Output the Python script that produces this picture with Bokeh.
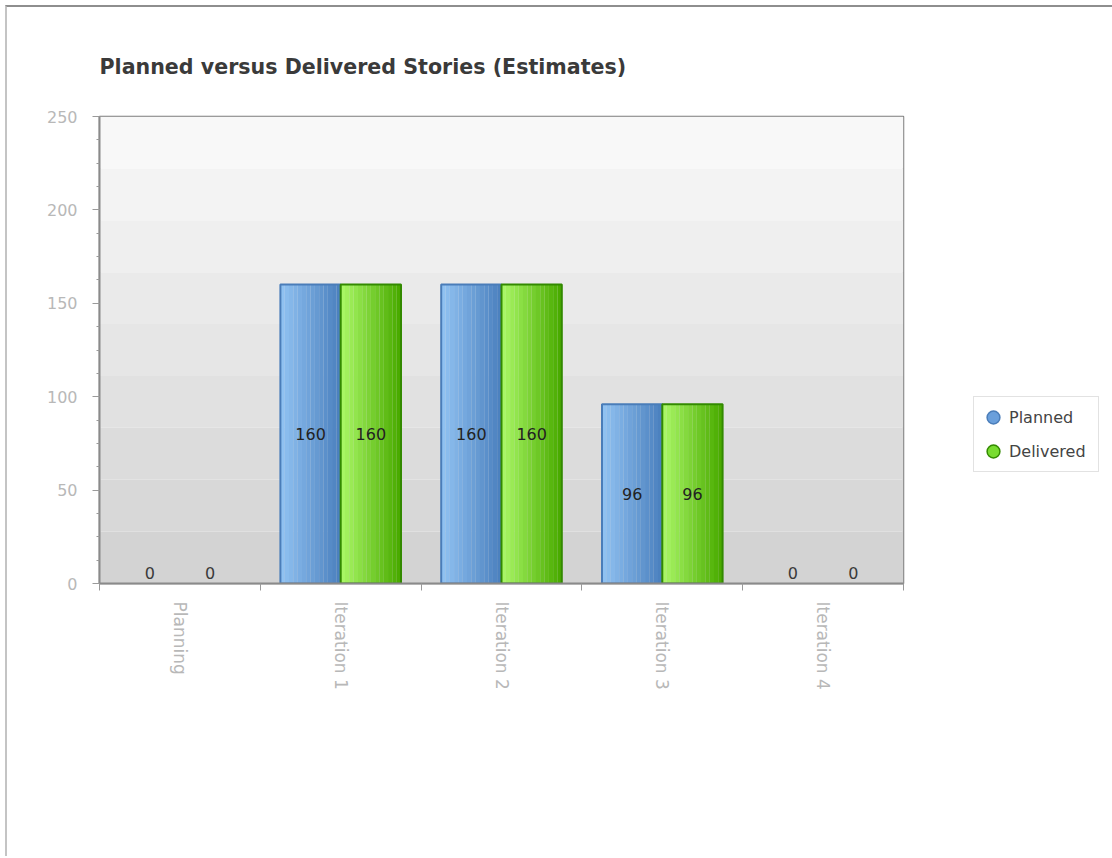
import math
from bokeh.plotting import figure
from bokeh.models import (FixedTicker, Legend, LegendItem, ColumnDataSource, Range1d)
from bokeh.core.properties import value
from bokeh.embed import file_html
from bokeh.resources import INLINE

# ---- data ----
categories = ["Planning", "Iteration 1", "Iteration 2", "Iteration 3", "Iteration 4"]
planned = [0, 160, 160, 96, 0]
delivered = [0, 160, 160, 96, 0]
y_max = 250
y_ticks = [0, 50, 100, 150, 200, 250]

FONT = "DejaVu Sans"

def lerp_hex(c1, c2, t):
    a = [int(c1[i:i + 2], 16) for i in (1, 3, 5)]
    b = [int(c2[i:i + 2], 16) for i in (1, 3, 5)]
    return "#" + "".join(f"{round(a[k] + (b[k] - a[k]) * t):02x}" for k in range(3))

n = len(categories)
centers = [i + 0.5 for i in range(n)]
bar_w = 0.375

p = figure(frame_width=804, frame_height=467, output_backend="svg", toolbar_location=None,
           x_range=Range1d(0, n), y_range=Range1d(0, y_max),
           min_border_left=92, min_border_right=207,
           min_border_top=109, min_border_bottom=273,
           background_fill_color="#ffffff", border_fill_color="#ffffff",
           styles={"margin-top": "5px", "margin-left": "5px",
                   "border-top": "2px solid #8e8e8e",
                   "border-left": "2px solid #c4c4c4"})

# shaded plot background: light at the top, darker toward the baseline
n_bands = 9
for k in range(n_bands):
    lo = y_max * k / n_bands
    hi = y_max * (k + 1) / n_bands
    col = lerp_hex("#d3d3d3", "#f8f8f8", k / (n_bands - 1))
    p.quad(left=0, right=n, bottom=lo, top=hi, fill_color=col, line_color=None)

# bars with a left-to-right shading
series = [
    ("Planned", planned, -bar_w / 2, "#8fc1f1", "#4c81bf", "#4a7db9", "#6a9fdb"),
    ("Delivered", delivered, bar_w / 2, "#a8f664", "#4aab00", "#338a00", "#78dc30"),
]
n_slices = 14
legend_items = []
for name, vals, off, c_left, c_right, c_line, c_key in series:
    xs = [c + off for c in centers]
    for s in range(n_slices):
        sx = [x - bar_w / 2 + (s + 0.5) * bar_w / n_slices for x in xs]
        p.vbar(x=sx, top=vals, bottom=0, width=bar_w / n_slices * 1.02,
               fill_color=lerp_hex(c_left, c_right, s / (n_slices - 1)), line_color=None)
    outline_src = ColumnDataSource(dict(x=[x for x, v in zip(xs, vals) if v > 0],
                                        top=[v for v in vals if v > 0]))
    p.vbar(x="x", top="top", bottom=0, width=bar_w, source=outline_src,
           fill_color=None, line_color=c_line, line_width=2)
    # legend key only: one point with no position, so nothing shows in the plot
    key = p.scatter(x=[float("nan")], y=[float("nan")], marker="circle",
                    fill_color=c_key, line_color=c_line, line_width=1.5)
    legend_items.append(LegendItem(label=name, renderers=[key]))

# value labels: middle of the bar, or resting on the baseline for zero values
lab_x, lab_y, lab_t, zero_x, zero_t = [], [], [], [], []
for _, vals, off, *_ in series:
    for c, v in zip(centers, vals):
        if v > 0:
            lab_x.append(c + off); lab_y.append(v / 2); lab_t.append(str(v))
        else:
            zero_x.append(c + off); zero_t.append(str(v))
p.text(x=lab_x, y=lab_y, text=lab_t, text_align="center", text_baseline="middle",
       text_font=value(FONT), text_font_size="16px", text_color="#222222")
p.text(x=zero_x, y=[0] * len(zero_x), text=zero_t, text_align="center",
       text_baseline="bottom", y_offset=-5,
       text_font=value(FONT), text_font_size="16px", text_color="#3a3a3a")

# axes
p.xaxis.ticker = FixedTicker(ticks=centers, minor_ticks=list(range(n + 1)))
p.xaxis.major_label_overrides = {c: name for c, name in zip(centers, categories)}
p.xaxis.major_label_orientation = -math.pi / 2
p.xaxis.major_tick_out = 0
p.xaxis.major_tick_in = 0
p.xaxis.minor_tick_out = 7
p.xaxis.minor_tick_in = 0
p.xaxis.major_label_standoff = 11
p.xaxis.major_label_text_font_size = "17px"

p.yaxis.ticker = FixedTicker(ticks=y_ticks,
                             minor_ticks=[t * 12.5 for t in range(int(y_max / 12.5) + 1)])
p.yaxis.major_tick_out = 7
p.yaxis.major_tick_in = 0
p.yaxis.minor_tick_out = 3
p.yaxis.minor_tick_in = 0
p.yaxis.major_label_standoff = 15
p.yaxis.major_label_text_font_size = "16px"

for ax in (p.xaxis[0], p.yaxis[0]):
    ax.axis_line_color = "#8a8a8a"
    ax.axis_line_width = 2
    ax.major_tick_line_color = "#9a9a9a"
    ax.minor_tick_line_color = "#9a9a9a"
    ax.major_label_text_font = FONT
    ax.major_label_text_color = "#b8b8b8"

p.xgrid.grid_line_color = None
p.xgrid.minor_grid_line_color = "#ffffff"
p.xgrid.minor_grid_line_alpha = 0.7
p.xgrid.minor_grid_line_dash = "2 2"
p.ygrid.grid_line_color = None

p.outline_line_color = "#7c7c7c"
p.outline_line_width = 1.5

# title
p.title.text = "Planned versus Delivered Stories (Estimates)"
p.title.text_font = FONT
p.title.text_font_size = "20.6px"
p.title.text_font_style = "bold"
p.title.text_color = "#3a3a3a"
p.title.align = "left"
p.title.standoff = 75

# legend with round keys, placed beside the plot
legend = Legend(items=legend_items, location=(70, 111), orientation="vertical",
                border_line_color="#c6c6c6", border_line_width=1.5,
                background_fill_color="#ffffff",
                padding=3, spacing=0, margin=0,
                glyph_width=32, glyph_height=34, label_standoff=0, label_width=86,
                label_text_font=FONT, label_text_font_size="16px",
                label_text_color="#444444")
p.add_layout(legend, "right")

open("out.html", "w").write(file_html(p, INLINE))
